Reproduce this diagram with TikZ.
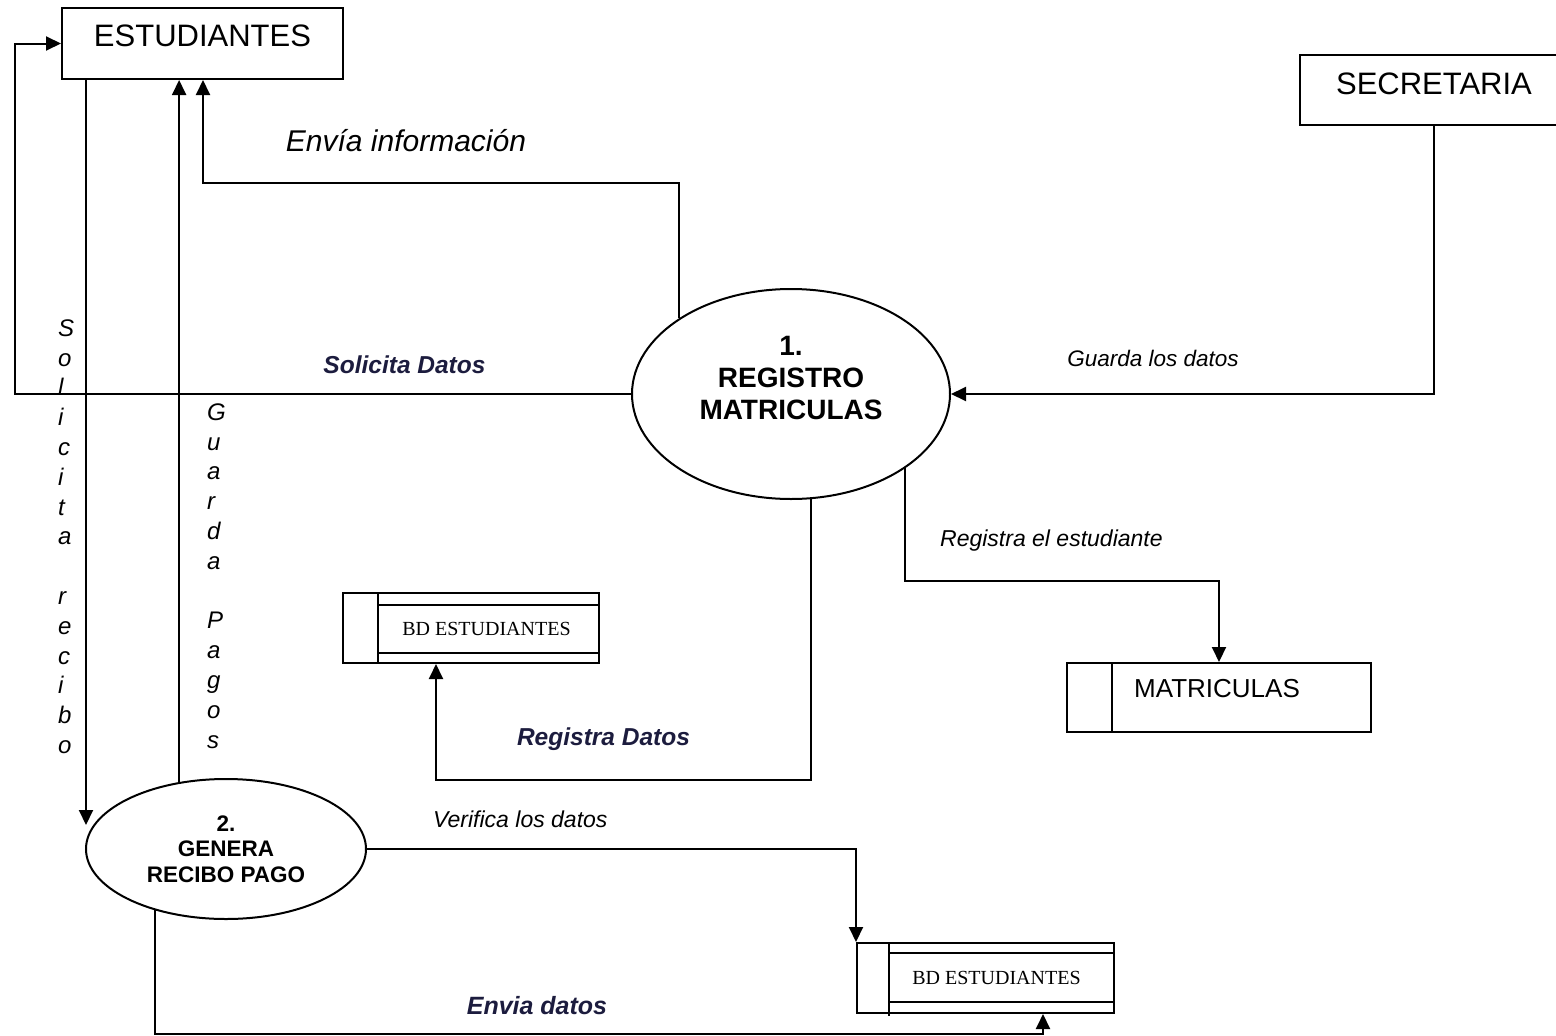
\documentclass[tikz,border=0pt]{standalone}
\usepackage{fontspec}
\setmainfont{Liberation Sans}
\newfontfamily\dbfont{Liberation Serif}
\usetikzlibrary{arrows.meta,calc,shapes.geometric}
\definecolor{lblnavy}{RGB}{28,28,62}
\begin{document}
\begin{tikzpicture}[x=1pt,y=-1pt,
 flow/.style={line width=2pt},
 arr/.style={flow,-{Triangle[length=15pt,width=14pt]}},
 entity/.style={draw,line width=2pt,rectangle,inner sep=0pt,font=\fontsize{31}{35}\selectfont},
 store/.style={draw,line width=2pt,rectangle,inner sep=0pt},
 proc/.style={draw,line width=2pt,ellipse,inner sep=0pt,align=center},
 lbl/.style={inner sep=0pt,text depth=0pt,font=\itshape\fontsize{23}{27}\selectfont},
 blbl/.style={inner sep=0pt,text depth=0pt,text=lblnavy,font=\bfseries\itshape\fontsize{24.5}{28}\selectfont},
 vlbl/.style={inner sep=0pt,align=left,anchor=north west,font=\itshape\fontsize{24}{29.8}\selectfont},
 dbtext/.style={inner sep=0pt,font=\dbfont\fontsize{20}{24}\selectfont},
]
\fill[white] (0,0) rectangle (1556,1036);
\useasboundingbox (0,0) rectangle (1556,1036);

% entities
\node[entity,minimum width=281pt,minimum height=71pt,text depth=15pt] (est) at (202.5,43.5) {ESTUDIANTES};
\node[entity,minimum width=268pt,minimum height=70pt,text depth=13pt] (sec) at (1434,90) {SECRETARIA};

% processes
\node[proc,minimum width=318pt,minimum height=210pt,font=\bfseries\fontsize{28}{32}\selectfont] (e1) at (791,394) {1.\\REGISTRO\\MATRICULAS\\\mbox{}};
\node[proc,minimum width=280pt,minimum height=140pt,font=\bfseries\fontsize{22.5}{25.5}\selectfont] (e2) at (226,849) {2.\\GENERA\\RECIBO PAGO};

% stores
\node[store,minimum width=304pt,minimum height=69pt] (mat) at (1219,697.5) {};
\draw[flow] ($(mat.north west)+(46,0)$) -- ($(mat.south west)+(46,0)$);
\node[anchor=west,inner sep=0pt,font=\fontsize{26}{30}\selectfont] (matt) at ($(mat.west)+(68,-8.5)$) {MATRICULAS};

\node[store,minimum width=256pt,minimum height=70pt] (bd1) at (471,628) {};
\draw[flow] ($(bd1.north west)+(36,0)$) -- ($(bd1.south west)+(36,0)$);
\draw[flow] ($(bd1.north west)+(36,13)$) -- ($(bd1.north east)+(0,13)$);
\draw[flow] ($(bd1.south west)+(36,-11)$) -- ($(bd1.south east)+(0,-11)$);
\node[dbtext] (bd1t) at ($(bd1.center)+(15.5,1)$) {BD ESTUDIANTES};

\node[store,minimum width=257pt,minimum height=70pt] (bd2) at (985.5,978) {};
\draw[flow] ($(bd2.north west)+(33,0)$) -- ($(bd2.south west)+(33,2)$);
\draw[flow] ($(bd2.north west)+(33,11)$) -- ($(bd2.north east)+(0,11)$);
\draw[flow] ($(bd2.south west)+(33,-12)$) -- ($(bd2.south east)+(0,-12)$);
\node[dbtext] (bd2t) at ($(bd2.center)+(11,0)$) {BD ESTUDIANTES};

% helper coordinates
\coordinate (lp) at (15,394);
\coordinate (sr) at (86,825);
\coordinate (ei) at (203,183);
\coordinate (re) at (903,581);
\coordinate (rd) at (437,780);
\coordinate (ed) at (1044,1034);
\coordinate (bd1in) at ($(bd1.south west)+(94,0)$);
\coordinate (bd2in) at ($(bd2.south west)+(187,0)$);

% connectors
\draw[arr] (e1.west) -- (lp) |- (est.west);
\draw[arr] (est.south -| sr) -- (sr);
\draw[arr] (e2.125.48) -- (e2.125.48 |- est.south);
\draw[arr] (e1.146.8) |- (ei) -- (ei |- est.south);
\draw[arr] (sec.south) |- (e1.east);
\draw[arr] (e1.-33.63) -- (e1.-33.63 |- re) -| (mat.north);
\draw[arr] (e1.-79.67) -- (e1.-79.67 |- rd) -| (bd1in);
\draw[arr] (e2.east) -| (bd2.north west);
\draw[arr] (e2.-139.11) -- (e2.-139.11 |- ed) -| (bd2in);

% labels
\node[lbl,font=\itshape\fontsize{30}{34}\selectfont] (l1) at (406,140) {Envía información};
\node[blbl] (l2) at (404.5,365) {Solicita Datos};
\node[lbl,font=\itshape\fontsize{22.5}{26}\selectfont] (l3) at (1153,358) {Guarda los datos};
\node[lbl,anchor=west] (l4) at (940,538) {Registra el estudiante};
\node[blbl] (l5) at (603.5,737) {Registra Datos};
\node[lbl,anchor=west] (l6) at (433,819) {Verifica los datos};
\node[blbl,font=\bfseries\itshape\fontsize{25}{29}\selectfont] (l7) at (537,1005) {Envia datos};

\node[vlbl] (vl1) at (58,319.4) {S\\o\\l\\i\\c\\i\\t\\a\\\mbox{}\\r\\e\\c\\i\\b\\o};
\node[vlbl] (vl2) at (207,403.4) {G\\u\\a\\r\\d\\a\\\mbox{}\\P\\a\\g\\o\\s};
\end{tikzpicture}
\end{document}
